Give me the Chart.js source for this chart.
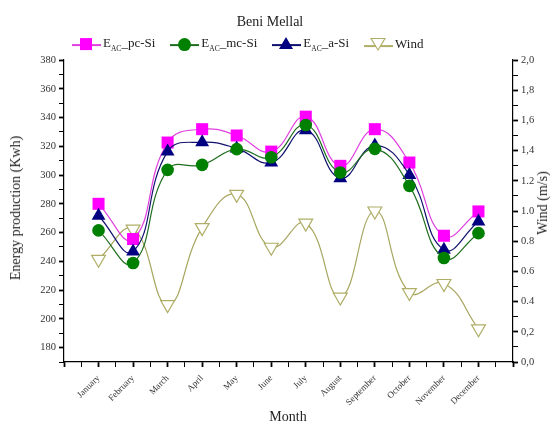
<!DOCTYPE html>
<html lang="en">
<head>
<meta charset="utf-8">
<title>Beni Mellal</title>
<script src="https://cdn.jsdelivr.net/npm/chart.js@4"></script>
<style>
  html, body { margin: 0; padding: 0; background: #fff; }
  #wrap { position: relative; width: 559px; height: 426px; font-family: "Liberation Serif", "DejaVu Serif", serif; color: #222; }
  #myChart { position: absolute; left: 0; top: 0; }
  .txt { position: absolute; white-space: nowrap; }
  #title { left: 270px; top: 22px; font-size: 14px; transform: translate(-50%, -50%); }
  #legend { left: 72px; top: 44px; font-size: 13px; transform: translateY(-50%); }
  #legend span.item { display: inline-block; vertical-align: middle; margin-right: 15px; }
  #legend sub { font-size: 7.5px; }
  .mk { display: inline-block; position: relative; width: 29px; height: 14px; vertical-align: middle; margin-right: 2px; }
  .mk i { position: absolute; left: 0; right: 0; top: 7px; height: 0; border-top: 2px solid; }
  .mk b { position: absolute; }
  #ytitle { left: 16px; top: 208px; font-size: 14px; transform: translate(-50%, -50%) rotate(-90deg); }
  #y2title { left: 543px; top: 203px; font-size: 14px; transform: translate(-50%, -50%) rotate(-90deg); }
  #xtitle { left: 288px; top: 417px; font-size: 14px; transform: translate(-50%, -50%); }
</style>
</head>
<body>
<div id="wrap">
  <canvas id="myChart" width="559" height="426"></canvas>
  <div class="txt" id="title">Beni Mellal</div>
  <div class="txt" id="legend"></div>
  <div class="txt" id="ytitle">Energy production (Kwh)</div>
  <div class="txt" id="y2title">Wind (m/s)</div>
  <div class="txt" id="xtitle">Month</div>
</div>
<script>
const months = ['January', 'February', 'March', 'April', 'May', 'June', 'July',
  'August', 'September', 'October', 'November', 'December'];
const pcSi = [280, 255.5, 322.6, 331.9, 327.5, 316.3, 340.6, 306.4, 331.9, 308.7, 257.8, 274.7];
const mcSi = [261.5, 238.8, 303.6, 307.1, 318, 312.4, 334.8, 301.8, 318.2, 292.5, 242.3, 259.6];
const aSi = [271.7, 246.9, 316.3, 322.8, 318.5, 308.7, 331.2, 297.8, 320.5, 300.1, 248.1, 267.7];
const wind = [0.68, 0.88, 0.38, 0.89, 1.11, 0.76, 0.92, 0.43, 1.0, 0.46, 0.52, 0.22];
const rightTickLabels = ['0,0', '0,2', '0.4', '0.6', '0.8', '1.0', '1.2', '1,4', '1,6', '1,8', '2,0'];

const pts = arr => arr.map((v, i) => ({ x: i + 1, y: v }));

// legend with subscripts, as html
const legendItems = [
  { pre: 'E', sub: 'AC', post: '_pc-Si', line: '#e040e0', shape: 'sq' },
  { pre: 'E', sub: 'AC', post: '_mc-Si', line: '#1f6e1f', shape: 'ci' },
  { pre: 'E', sub: 'AC', post: '_a-Si', line: '#10106e', shape: 'tr' },
  { pre: '', sub: '', post: 'Wind', line: '#b0ae66', shape: 'dn' }
];
const shapeHtml = {
  sq: '<b style="background:#ff00ff;width:12px;height:12px;left:8px;top:1px;"></b>',
  ci: '<b style="background:#008000;border-radius:50%;width:13px;height:13px;left:8px;top:1px;"></b>',
  tr: '<b style="width:0;height:0;border-left:7px solid transparent;border-right:7px solid transparent;border-bottom:12px solid #000080;left:7px;top:0;"></b>',
  dn: '<b style="width:0;height:0;border-left:8px solid transparent;border-right:8px solid transparent;border-top:13px solid #b0ae66;left:6px;top:0;"></b>' +
      '<b style="width:0;height:0;border-left:6px solid transparent;border-right:6px solid transparent;border-top:10px solid #fff;left:8px;top:1px;"></b>'
};
document.getElementById('legend').innerHTML = legendItems.map(it =>
  '<span class="item"><span class="mk"><i style="border-color:' + it.line + '"></i>' + shapeHtml[it.shape] + '</span>' +
  it.pre + (it.sub ? '<sub>' + it.sub + '</sub>' : '') + it.post + '</span>'
).join('');

const tickFont = { family: '"Liberation Serif", serif', size: 10.5 };

const ctx = document.getElementById('myChart');
new Chart(ctx, {
  type: 'line',
  data: {
    datasets: [
      {
        label: 'E_AC_pc-Si', data: pts(pcSi), yAxisID: 'y', order: 2,
        borderColor: '#e040e0', borderWidth: 1.2, tension: 0.45,
        pointStyle: 'rect', pointRadius: 8.5, pointBackgroundColor: '#ff00ff', pointBorderWidth: 0
      },
      {
        label: 'E_AC_mc-Si', data: pts(mcSi), yAxisID: 'y', order: 0,
        borderColor: '#1f6e1f', borderWidth: 1.2, tension: 0.45,
        pointStyle: 'circle', pointRadius: 6.3, pointBackgroundColor: '#008000', pointBorderWidth: 0
      },
      {
        label: 'E_AC_a-Si', data: pts(aSi), yAxisID: 'y', order: 1,
        borderColor: '#10106e', borderWidth: 1.2, tension: 0.45,
        pointStyle: 'triangle', pointRadius: 8, pointBackgroundColor: '#000080', pointBorderWidth: 0
      },
      {
        label: 'Wind', data: pts(wind), yAxisID: 'y2', order: 3,
        borderColor: '#a8a660', borderWidth: 1.2, tension: 0.45,
        pointStyle: 'triangle', rotation: 180, pointRadius: 8,
        pointBackgroundColor: '#fff', pointBorderColor: '#b0ae66', pointBorderWidth: 1.2
      }
    ]
  },
  options: {
    responsive: false,
    animation: false,
    layout: { padding: { top: 60, left: 0, right: 0, bottom: 0 } },
    plugins: { legend: { display: false }, tooltip: { enabled: false } },
    scales: {
      x: {
        type: 'linear', min: 0, max: 13,
        afterBuildTicks: s => { s.ticks = []; for (let v = 0; v <= 26; v++) s.ticks.push({ value: v / 2 }); },
        afterFit: s => { s.height = 64; },
        border: { display: true, color: '#000', width: 1.2 },
        grid: { drawOnChartArea: false, drawTicks: true, tickLength: 5, color: '#000',
          tickWidth: c => (c.tick && Number.isInteger(c.tick.value) ? 1.8 : 1) },
        ticks: {
          autoSkip: false, maxRotation: 45, minRotation: 45, padding: 6,
          color: '#333', font: { family: '"Liberation Serif", serif', size: 9 },
          callback: v => (Number.isInteger(v) && v >= 1 && v <= 12 ? months[v - 1] : '')
        }
      },
      y: {
        position: 'left', min: 170, max: 380,
        afterBuildTicks: s => { s.ticks = []; for (let v = 170; v <= 380; v += 10) s.ticks.push({ value: v }); },
        afterFit: s => { s.width = 64; },
        border: { display: true, color: '#000', width: 1.2 },
        grid: { drawOnChartArea: false, drawTicks: true, tickLength: 5, color: '#000',
          tickWidth: c => (c.tick && c.tick.value % 20 === 0 ? 1.8 : 1) },
        ticks: {
          autoSkip: false, color: '#333', font: tickFont, padding: 3,
          callback: v => (v % 20 === 0 ? String(v) : '')
        }
      },
      y2: {
        position: 'right', min: 0, max: 2,
        afterBuildTicks: s => { s.ticks = []; for (let v = 0; v <= 20; v++) s.ticks.push({ value: v / 10 }); },
        afterFit: s => { s.width = 46; },
        border: { display: true, color: '#000', width: 1.2 },
        grid: { drawOnChartArea: false, drawTicks: true, tickLength: 5, color: '#000',
          tickWidth: c => (c.tick && Math.round(c.tick.value * 10) % 2 === 0 ? 1.8 : 1) },
        ticks: {
          autoSkip: false, color: '#333', font: tickFont, padding: 3,
          callback: v => {
            const k = Math.round(v * 10);
            return k % 2 === 0 ? rightTickLabels[k / 2] : '';
          }
        }
      }
    }
  }
});
</script>
</body>
</html>
